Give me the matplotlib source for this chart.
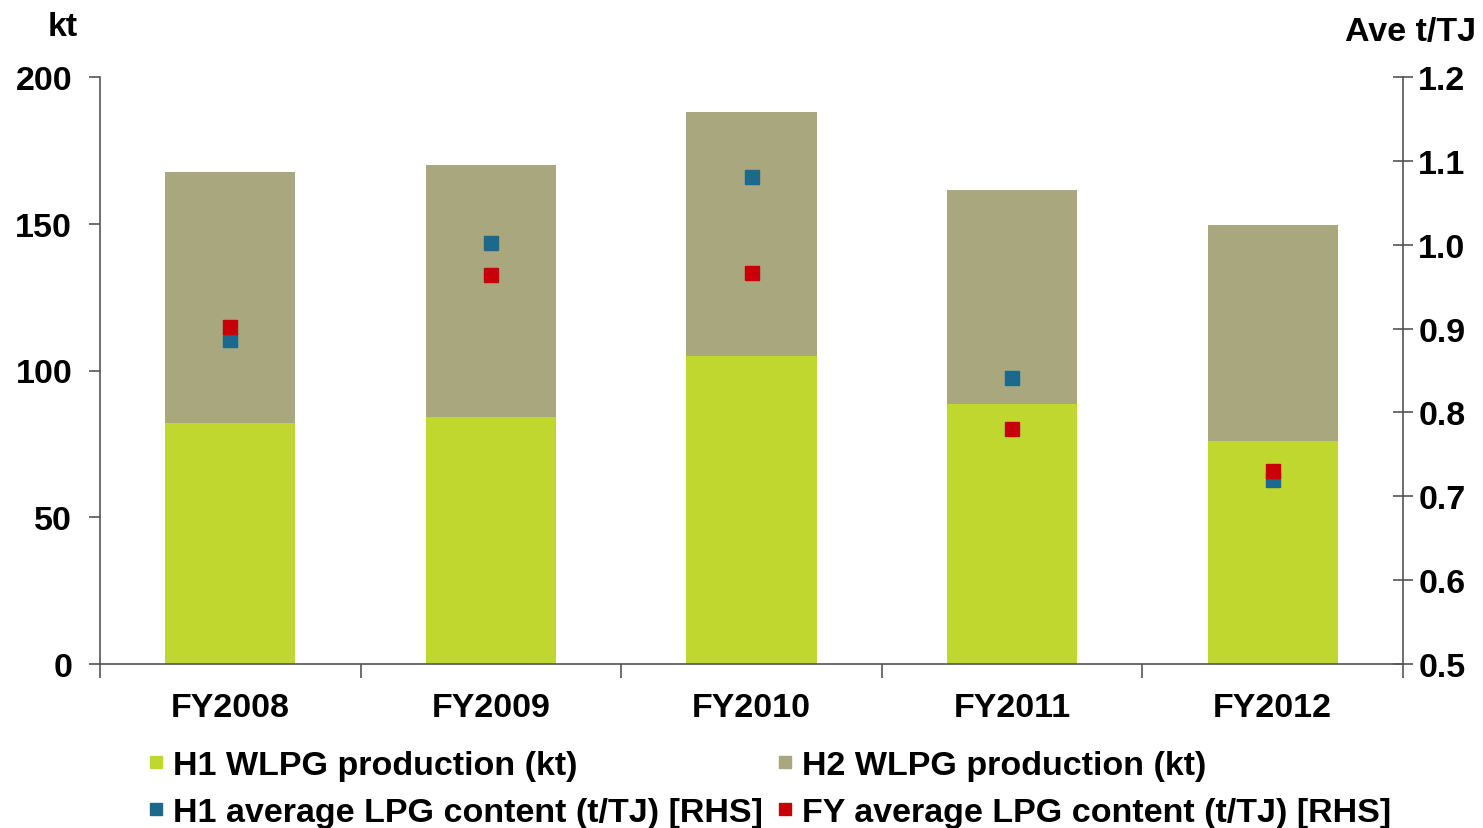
import matplotlib
matplotlib.use("Agg")
import matplotlib.pyplot as plt
from matplotlib.lines import Line2D
import numpy as np

plt.rcParams['font.family'] = ['Liberation Sans', 'DejaVu Sans']
plt.rcParams['font.weight'] = 'bold'

categories = ["FY2008", "FY2009", "FY2010", "FY2011", "FY2012"]
h1_prod = [82, 84, 105, 88.5, 76]
h2_prod = [85.5, 86, 83, 73, 73.5]
h1_avg = [0.886, 1.002, 1.081, 0.841, 0.719]
fy_avg = [0.902, 0.964, 0.966, 0.780, 0.730]
left_ticks = [0, 50, 100, 150, 200]
right_ticks = [0.5, 0.6, 0.7, 0.8, 0.9, 1.0, 1.1, 1.2]

c_h1 = '#C0D72F'
c_h2 = '#A8A77D'
c_blue = '#1B6A8E'
c_red = '#C8000A'
fs = 24.5

fig = plt.figure(figsize=(14.83, 8.29), dpi=100)
ax = fig.add_axes([100/1483, 1-665/829, 1303/1483, 587/829])
x = np.arange(len(categories))
ax.bar(x, h1_prod, width=0.5, color=c_h1, zorder=2)
ax.bar(x, h2_prod, width=0.5, bottom=h1_prod, color=c_h2, zorder=2)
ax.set_xlim(-0.5, len(categories) - 0.5)
ax.set_ylim(0, 200)
ax.set_yticks(left_ticks)
ax.set_xticks(x)
ax.set_xticklabels(categories)
ax.set_xticks(np.arange(-0.5, len(categories), 1.0), minor=True)
ax.tick_params(axis='x', which='major', length=0, pad=20, labelsize=fs)
ax.tick_params(axis='x', which='minor', length=10, width=1.2, color='#555555', direction='out')
ax.tick_params(axis='y', length=8, width=1.2, color='#555555', direction='out', pad=12, labelsize=fs)
for s in ['top', 'right']:
    ax.spines[s].set_visible(False)
for s in ['left', 'bottom']:
    ax.spines[s].set_color('#555555')
    ax.spines[s].set_linewidth(1.2)

ax2 = ax.twinx()
ax2.plot(x, h1_avg, linestyle='none', marker='s', markersize=10.5, color=c_blue, zorder=3)
ax2.plot(x, fy_avg, linestyle='none', marker='s', markersize=10.5, color=c_red, zorder=4)
ax2.set_ylim(0.5, 1.2)
ax2.set_yticks(right_ticks)
ax2.set_yticklabels([f"{v:.1f}" for v in right_ticks])
ax2.tick_params(axis='y', length=14, width=1.2, color='#555555', direction='inout', pad=4, labelsize=fs)
for s in ['top', 'left', 'bottom']:
    ax2.spines[s].set_visible(False)
ax2.spines['right'].set_color('#555555')
ax2.spines['right'].set_linewidth(1.2)

fig.text(63/1483, 1-28/829, "kt", ha='center', va='center', fontsize=fs, fontweight='bold')
fig.text(1476/1483, 1-33/829, "Ave t/TJ", ha='right', va='center', fontsize=fs, fontweight='bold')

handles = [
    Line2D([], [], linestyle='none', marker='s', markersize=9, color=c_h1),
    Line2D([], [], linestyle='none', marker='s', markersize=9, color=c_blue),
    Line2D([], [], linestyle='none', marker='s', markersize=9, color=c_h2),
    Line2D([], [], linestyle='none', marker='s', markersize=9, color=c_red),
]
labels = ["H1 WLPG production (kt)", "H1 average LPG content (t/TJ) [RHS]",
          "H2 WLPG production (kt)", "FY average LPG content (t/TJ) [RHS]"]
fig.legend(handles, labels, ncol=2, loc='center', bbox_to_anchor=(769/1483, 1-790/829),
           frameon=False, fontsize=fs, handlelength=0.5, handletextpad=0.25,
           columnspacing=0.4, labelspacing=0.45, borderpad=0)

fig.savefig("out.png", dpi=100)
